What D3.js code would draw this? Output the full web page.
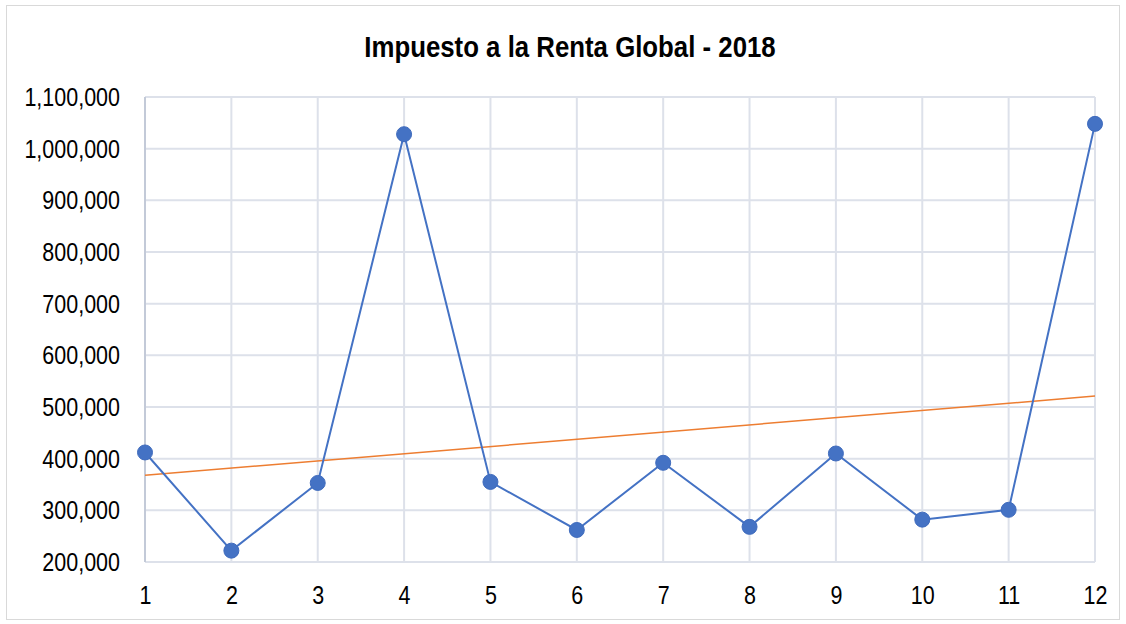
<!DOCTYPE html>
<html>
<head>
<meta charset="utf-8">
<script src="https://cdn.jsdelivr.net/npm/d3@7"></script>
<style>
  body { margin: 0; background: #fff; }
  svg { display: block; font-family: "Liberation Sans Narrow", "Liberation Sans", Arial, sans-serif; }
</style>
</head>
<body>
<svg width="1126" height="624"></svg>
<script>
'use strict';

/* Data. */
var months = [1, 2, 3, 4, 5, 6, 7, 8, 9, 10, 11, 12];
var impuesto = [412000, 222000, 353000, 1028000, 355000, 262000, 392000, 268000, 410000, 282000, 301000, 1048000];
var yTicks = [200000, 300000, 400000, 500000, 600000, 700000, 800000, 900000, 1000000, 1100000];
var title = 'Impuesto a la Renta Global - 2018';

/* Horizontal squeeze to mimic a narrow face. */
var narrow = 0.86;

var svg = d3.select('svg');

/* Chart border. */
svg.append('rect')
  .attr('x', 6.5).attr('y', 5.5)
  .attr('width', 1113).attr('height', 614)
  .attr('fill', '#fff')
  .attr('stroke', '#d9d9d9');

var margin = {top: 97, right: 31, bottom: 62, left: 145};
var width = 1126 - margin.left - margin.right;
var height = 624 - margin.top - margin.bottom;

var x = d3.scaleLinear().domain([1, 12]).range([0, width]);
var y = d3.scaleLinear().domain([200000, 1100000]).range([height, 0]);

var group = svg.append('g')
  .attr('transform', 'translate(' + margin.left + ',' + margin.top + ')');

/* Title. */
svg.append('text')
  .attr('transform', 'translate(570,57) scale(' + narrow + ',1)')
  .attr('text-anchor', 'middle')
  .attr('font-size', 30)
  .attr('font-weight', 'bold')
  .attr('fill', '#000')
  .text(title);

/* Vertical grid. */
group.append('g')
  .selectAll('line')
  .data(months.slice(1))
  .enter()
  .append('line')
  .attr('x1', function (d) { return x(d); })
  .attr('x2', function (d) { return x(d); })
  .attr('y1', 0).attr('y2', height)
  .attr('stroke', '#dde1ea')
  .attr('stroke-width', 2);

/* Horizontal grid. */
group.append('g')
  .selectAll('line')
  .data(yTicks)
  .enter()
  .append('line')
  .attr('x1', 0).attr('x2', width)
  .attr('y1', function (d) { return y(d); })
  .attr('y2', function (d) { return y(d); })
  .attr('stroke', '#dde1ea')
  .attr('stroke-width', 2);

/* Left axis line. */
group.append('line')
  .attr('x1', 0).attr('x2', 0)
  .attr('y1', 0).attr('y2', height)
  .attr('stroke', '#c3cad8')
  .attr('stroke-width', 2);

/* Y axis labels. */
var yAxis = group.append('g')
  .call(d3.axisLeft(y).tickValues(yTicks).tickFormat(d3.format(',')).tickSize(0));
yAxis.select('.domain').remove();
yAxis.selectAll('text')
  .attr('x', -25 / narrow)
  .attr('dy', '0.34em')
  .attr('transform', 'scale(' + narrow + ',1)')
  .attr('font-size', 25)
  .attr('fill', '#000')
  .attr('font-family', null);

/* X axis labels. */
var xAxis = group.append('g')
  .attr('transform', 'translate(0,' + height + ')')
  .call(d3.axisBottom(x).tickValues(months).tickFormat(d3.format('d')).tickSize(0));
xAxis.select('.domain').remove();
xAxis.selectAll('text')
  .attr('y', 42)
  .attr('dy', 0)
  .attr('transform', 'scale(' + narrow + ',1)')
  .attr('font-size', 25)
  .attr('fill', '#000')
  .attr('font-family', null);

/* Linear trend line (least squares). */
var mx = d3.mean(months);
var my = d3.mean(impuesto);
var sxy = d3.sum(months, function (d, i) { return (d - mx) * (impuesto[i] - my); });
var sxx = d3.sum(months, function (d) { return (d - mx) * (d - mx); });
var slope = sxy / sxx;
var intercept = my - slope * mx;

group.append('line')
  .attr('x1', x(1)).attr('x2', x(12))
  .attr('y1', y(intercept + slope * 1))
  .attr('y2', y(intercept + slope * 12))
  .attr('stroke', '#ed7d31')
  .attr('stroke-width', 1.5);

/* Data line. */
var line = d3.line()
  .x(function (d, i) { return x(months[i]); })
  .y(function (d) { return y(d); });

group.append('path')
  .datum(impuesto)
  .attr('d', line)
  .attr('fill', 'none')
  .attr('stroke', '#4472c4')
  .attr('stroke-width', 2);

/* Markers. */
group.selectAll('.dot')
  .data(impuesto)
  .enter()
  .append('circle')
  .attr('class', 'dot')
  .attr('cx', function (d, i) { return x(months[i]); })
  .attr('cy', function (d) { return y(d); })
  .attr('r', 7.5)
  .attr('fill', '#4472c4')
  .attr('stroke', '#3f6bbd')
  .attr('stroke-width', 1);
</script>
</body>
</html>
